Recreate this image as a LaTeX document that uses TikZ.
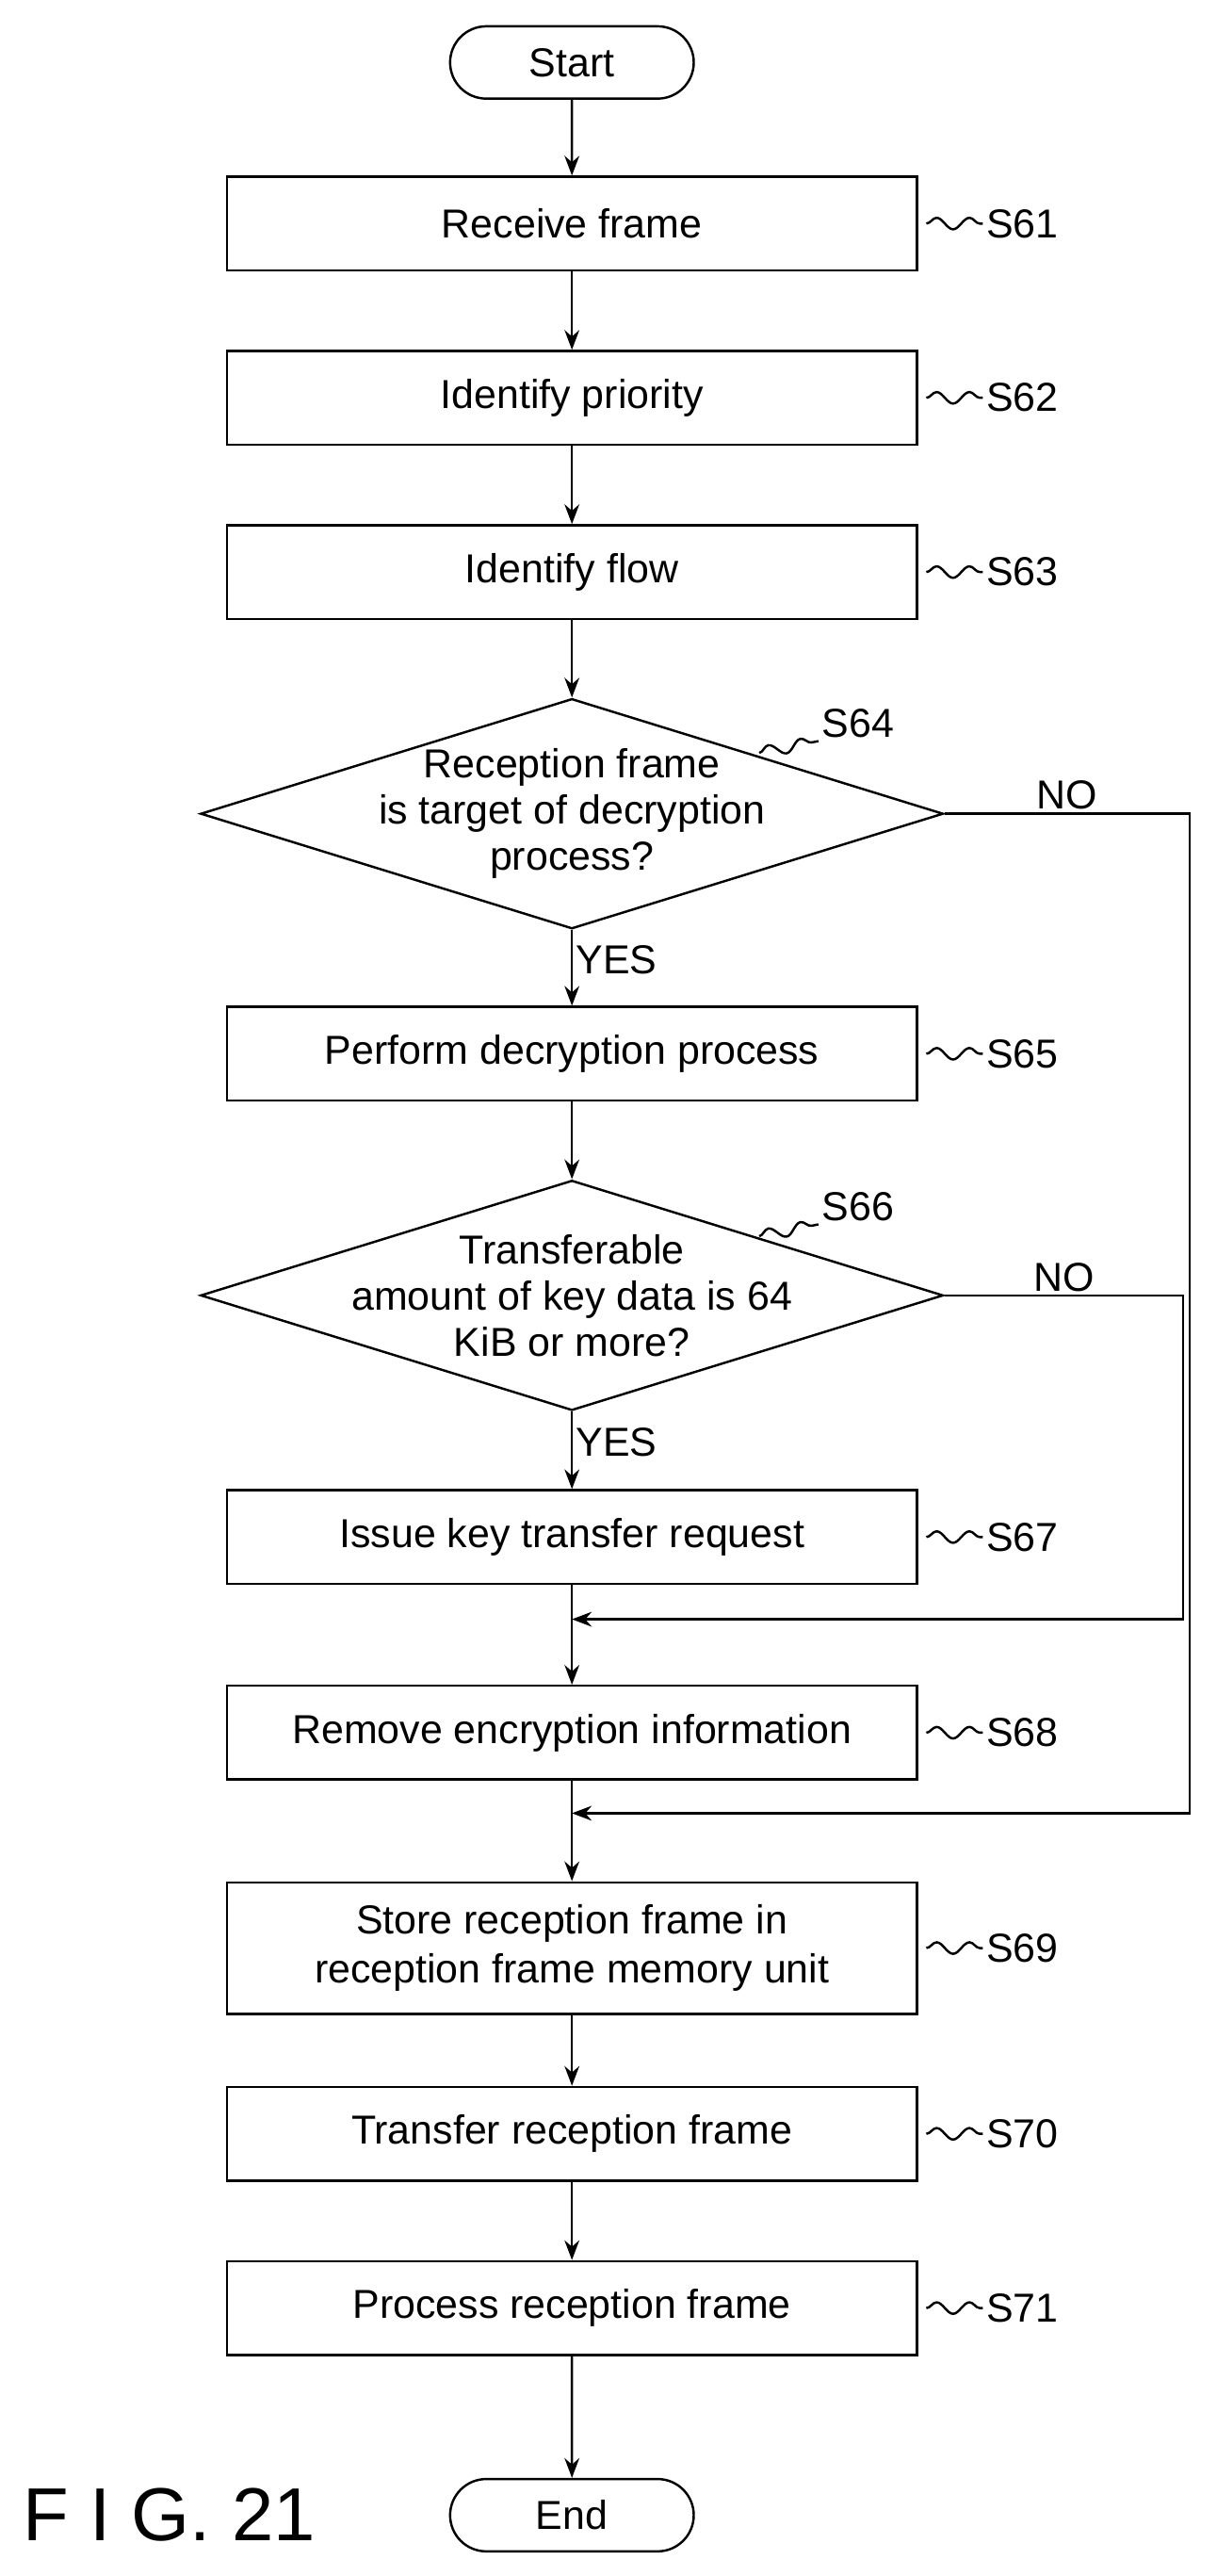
\documentclass[tikz,border=0pt]{standalone}
\usepackage{fontspec}
\setmainfont{Liberation Sans}
\usepackage{tikz}
\usetikzlibrary{arrows.meta, shapes.geometric, shapes.misc, decorations.pathmorphing}
\tikzstyle{stepbox}=[draw, thick, rectangle, minimum width=8.4cm, minimum height=1.14cm, align=center, font=\fontsize{14}{17}\selectfont]
\tikzstyle{term}=[draw, thick, rounded rectangle, minimum width=3.2cm, minimum height=0.88cm, font=\fontsize{14}{17}\selectfont]
\tikzstyle{check}=[draw, thick, diamond, aspect=3.23, minimum width=9.04cm, minimum height=2.8cm, inner sep=-12pt, align=center, font=\fontsize{14}{16}\selectfont]
\tikzstyle{tag}=[font=\fontsize{14}{17}\selectfont, inner sep=1pt]
\tikzstyle{flow}=[thick, -{Stealth[length=2.4mm]}]
\tikzstyle{tilde}=[thick, decorate, decoration={snake, amplitude=0.7mm, segment length=4mm}]

\begin{document}
\begin{tikzpicture}[x=0.02cm, y=-0.02cm]
        \useasboundingbox (0,0) rectangle (740,1567);
        \node[term] (start) at (348,38) {Start};
        \node[stepbox] (s61) at (348,136) {Receive frame};
        \node[stepbox] (s62) at (348,242) {Identify priority};
        \node[stepbox] (s63) at (348,348) {Identify flow};
        \node[check] (s64) at (348,495) {Reception frame\\is target of decryption\\process?};
        \node[stepbox] (s65) at (348,641) {Perform decryption process};
        \node[check] (s66) at (348,788) {Transferable\\amount of key data is 64\\KiB or more?};
        \node[stepbox] (s67) at (348,935) {Issue key transfer request};
        \node[stepbox] (s68) at (348,1054) {Remove encryption information};
        \node[stepbox, minimum height=1.6cm] (s69) at (348,1185) {Store reception frame in\\reception frame memory unit};
        \node[stepbox] (s70) at (348,1298) {Transfer reception frame};
        \node[stepbox] (s71) at (348,1404) {Process reception frame};
        \node[term] (end) at (348,1530) {End};
        % step labels
        \foreach \n/\y in {61/136, 62/242, 63/348, 65/641, 67/935, 68/1054, 69/1185, 70/1298, 71/1404} {
             \node[tag, anchor=west] (l\n) at (598,\y) {S\n};
             \draw[tilde] (s\n.east) ++(5,0) -- (l\n.west);
        }
        \node[tag] (l64) at (522,440) {S64}; \coordinate (c64) at (462,458);
        \draw[tilde] (c64) -- (l64.south west);
        \node[tag] (l66) at (522,734) {S66}; \coordinate (c66) at (462,752);
        \draw[tilde] (c66) -- (l66.south west);
        % main line
        \draw[flow] (start) -- (s61);
        \draw[flow] (s61) -- (s62);
        \draw[flow] (s62) -- (s63);
        \draw[flow] (s63) -- (s64);
        \draw[flow] (s64) -- node[tag, right, pos=0.4] {YES} (s65);
        \draw[flow] (s65) -- (s66);
        \draw[flow] (s66) -- node[tag, right, pos=0.4] {YES} (s67);
        \draw[flow] (s67) -- (s68);
        \draw[flow] (s68) -- (s69);
        \draw[flow] (s69) -- (s70);
        \draw[flow] (s70) -- (s71);
        \draw[flow] (s71) -- (end);
        % NO branches
        \coordinate (j66) at (348,985); \coordinate (j64) at (348,1103);
        \draw[flow] (s66.east) -- node[tag, above, pos=0.5] {NO} (720,788) |- (j66);
        \draw[flow] (s64.east) -- node[tag, above, pos=0.5] {NO} (724,495) |- (j64);
        \node[font=\fontsize{26}{30}\selectfont, anchor=west] (fig) at (8,1530) {F I G. 21};
    \end{tikzpicture}
\end{document}
